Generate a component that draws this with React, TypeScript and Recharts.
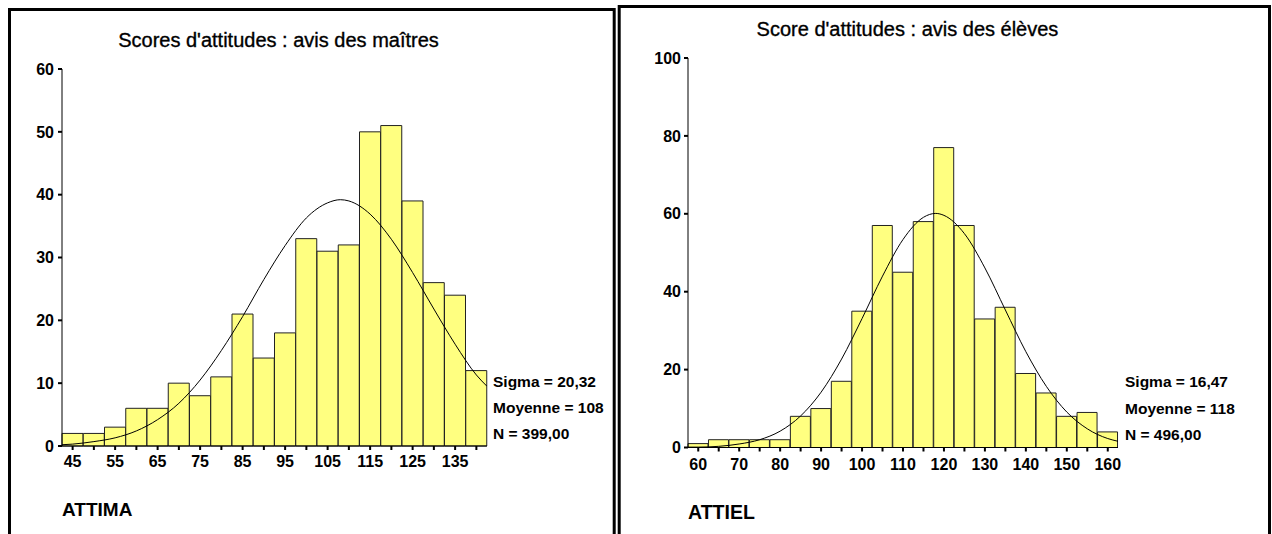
import { ComposedChart, Bar, Line, XAxis, YAxis } from 'recharts';

const FONT = '"Liberation Sans", Arial, Helvetica, sans-serif';

// Scores d'attitudes : avis des maîtres (ATTIMA)
const maitresBins = [45, 50, 55, 60, 65, 70, 75, 80, 85, 90, 95, 100, 105, 110, 115, 120, 125, 130, 135, 140];
const maitresCounts = [2, 2, 3, 6, 6, 10, 8, 11, 21, 14, 18, 33, 31, 32, 50, 51, 39, 26, 24, 12];
const maitresCurveX = [42.5, 45, 50, 55, 60, 65, 70, 75, 80, 85, 90, 95, 100, 105, 108, 110, 115, 120, 125, 130, 135, 140, 142.5];
const maitresCurveY = [0.2, 0.3, 0.7, 1.3, 2.4, 4.2, 6.8, 10.5, 15.2, 20.6, 26.5, 31.9, 36.3, 38.7, 39.2, 39.0, 36.9, 32.9, 27.6, 21.8, 16.2, 11.3, 9.5];
const maitresYTicks = [0, 10, 20, 30, 40, 50, 60];
const maitresStats = ['Sigma = 20,32', 'Moyenne = 108', 'N = 399,00'];

// Score d'attitudes : avis des élèves (ATTIEL)
const elevesBins = [60, 65, 70, 75, 80, 85, 90, 95, 100, 105, 110, 115, 120, 125, 130, 135, 140, 145, 150, 155, 160];
const elevesCounts = [1, 2, 2, 2, 2, 8, 10, 17, 35, 57, 45, 58, 77, 57, 33, 36, 19, 14, 8, 9, 4];
const elevesCurveX = [57.5, 60, 65, 70, 75, 80, 85, 90, 95, 100, 105, 110, 115, 118, 120, 125, 130, 135, 140, 145, 150, 155, 160, 162.5];
const elevesCurveY = [0.1, 0.1, 0.3, 0.9, 2.0, 4.2, 8.1, 14.2, 22.7, 33.1, 44.0, 53.4, 59.1, 60.1, 59.6, 54.9, 46.1, 35.3, 24.6, 15.7, 9.1, 4.8, 2.3, 1.6];
const elevesYTicks = [0, 20, 40, 60, 80, 100];
const elevesStats = ['Sigma = 16,47', 'Moyenne = 118', 'N = 496,00'];

interface HistProps {
  bins: number[];
  counts: number[];
  curveX: number[];
  curveY: number[];
  yTicks: number[];
  width: number;
  height: number;
  margin: { top: number; right: number; bottom: number; left: number };
  yAxisWidth: number;
  xTickMargin: number;
  yTickMargin: number;
}

const tickStyle = { fill: '#000', fontSize: 16, fontWeight: 700, fontFamily: FONT };

const Histogram = ({ bins, counts, curveX, curveY, yTicks, width, height, margin, yAxisWidth, xTickMargin, yTickMargin }: HistProps) => {
  const data = bins.map((bin, i) => ({ bin, count: counts[i] }));
  const curve = curveX.map((x, i) => ({ x, y: curveY[i] }));
  const half = (bins[1] - bins[0]) / 2;
  const yMax = yTicks[yTicks.length - 1];

  return (
    <ComposedChart width={width} height={height} data={data} margin={margin} barCategoryGap={0} barGap={0}>
      <XAxis
        dataKey="bin"
        type="category"
        interval={0}
        height={30}
        tickSize={4}
        tickMargin={xTickMargin}
        tickLine={{ stroke: '#000', strokeWidth: 2 }}
        axisLine={{ stroke: '#000' }}
        tick={tickStyle}
        tickFormatter={(v: number, i: number) => (i % 2 === 0 ? String(v) : '')}
      />
      <XAxis
        xAxisId="curve"
        type="number"
        dataKey="x"
        orientation="top"
        domain={[bins[0] - half, bins[bins.length - 1] + half]}
        allowDataOverflow
        height={0}
        tick={false}
        tickLine={false}
        axisLine={{ stroke: '#000' }}
      />
      <YAxis
        domain={[0, yMax]}
        ticks={yTicks}
        interval={0}
        width={yAxisWidth}
        tickSize={4}
        tickMargin={yTickMargin}
        tickLine={{ stroke: '#000', strokeWidth: 2 }}
        axisLine={{ stroke: '#000' }}
        tick={tickStyle}
      />
      <YAxis
        yAxisId="r"
        orientation="right"
        domain={[0, yMax]}
        width={0}
        tick={false}
        tickLine={false}
        axisLine={{ stroke: '#000' }}
      />
      <Bar dataKey="count" fill="#FFFF80" stroke="#222" strokeWidth={1} isAnimationActive={false} />
      <Line
        data={curve}
        xAxisId="curve"
        yAxisId="r"
        dataKey="y"
        type="monotone"
        stroke="#000"
        strokeWidth={1}
        dot={false}
        activeDot={false}
        isAnimationActive={false}
      />
    </ComposedChart>
  );
};

const App = () => {
  return (
    <div style={{ position: 'absolute', left: 0, top: 0, width: 1272, height: 534, background: '#fff', overflow: 'hidden' }}>
      <div style={{ position: 'absolute', left: 0, top: 0 }}>
        <Histogram
          bins={maitresBins}
          counts={maitresCounts}
          curveX={maitresCurveX}
          curveY={maitresCurveY}
          yTicks={maitresYTicks}
          width={620}
          height={534}
          margin={{ top: 69, right: 133, bottom: 58, left: 0 }}
          yAxisWidth={62}
          xTickMargin={6}
          yTickMargin={4}
        />
      </div>
      <div style={{ position: 'absolute', left: 620, top: 0 }}>
        <Histogram
          bins={elevesBins}
          counts={elevesCounts}
          curveX={elevesCurveX}
          curveY={elevesCurveY}
          yTicks={elevesYTicks}
          width={652}
          height={534}
          margin={{ top: 58, right: 154, bottom: 56.5, left: 0 }}
          yAxisWidth={68}
          xTickMargin={7}
          yTickMargin={3}
        />
      </div>
      <svg
        width={1272}
        height={534}
        style={{ position: 'absolute', left: 0, top: 0, pointerEvents: 'none' }}
        fontFamily={FONT}
      >
        <path d="M9.5 540 V9.5 H614.2 V540" fill="none" stroke="#000" strokeWidth={3} />
        <path d="M619.2 540 V6.5 H1269.5 V540" fill="none" stroke="#000" strokeWidth={3} />

        <text x={278.5} y={47} textAnchor="middle" fontSize={20} fill="#000" stroke="#000" strokeWidth={0.35}>
          Scores d'attitudes : avis des maîtres
        </text>
        {maitresStats.map((s, i) => (
          <text key={s} x={493} y={387 + i * 26} fontSize={15.5} fontWeight={700} fill="#000">
            {s}
          </text>
        ))}
        <text x={62} y={516} fontSize={19} fontWeight={700} fill="#000">
          ATTIMA
        </text>

        <text x={907.5} y={36} textAnchor="middle" fontSize={20} fill="#000" stroke="#000" strokeWidth={0.35}>
          Score d'attitudes : avis des élèves
        </text>
        {elevesStats.map((s, i) => (
          <text key={s} x={1125} y={387 + i * 26.5} fontSize={15.5} fontWeight={700} fill="#000">
            {s}
          </text>
        ))}
        <text x={688} y={519} fontSize={19.5} fontWeight={700} fill="#000">
          ATTIEL
        </text>
      </svg>
    </div>
  );
};

export default App;
